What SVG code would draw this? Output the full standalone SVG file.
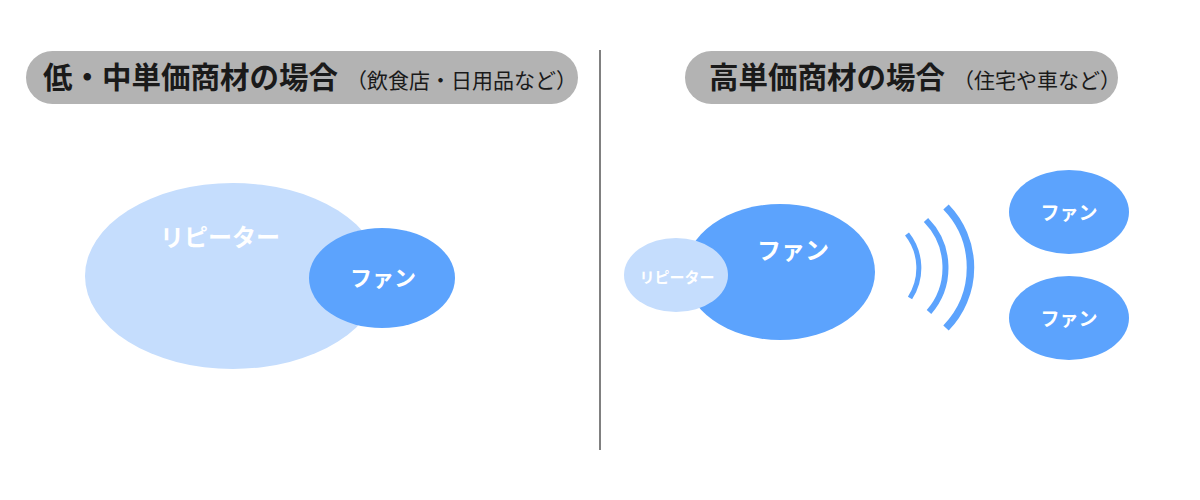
<svg xmlns="http://www.w3.org/2000/svg" width="1200" height="500" viewBox="0 0 1200 500">
<style>
.pill{fill:#b3b3b3}
.h{font-family:"Noto Sans CJK JP",sans-serif;fill:#1a1a1a}
.hb{font-weight:bold;font-size:29.5px}
.hs{font-size:21px}
.lbl{font-family:"Noto Sans CJK JP",sans-serif;fill:#ffffff;font-weight:bold;text-anchor:middle;dominant-baseline:central}
.light{fill:#c5ddfd}
.fan{fill:#5ca3fd}
.wave{fill:none;stroke:#5ca3fd;stroke-linecap:butt}
</style>
<rect width="1200" height="500" fill="#ffffff"/>
<g id="header-left">
<rect class="pill" x="26" y="51" width="552" height="53" rx="26.5"/>
<text class="h" x="43" y="88"><tspan class="hb">低・中単価商材の場合</tspan><tspan class="hs" dx="8">（飲食店・日用品など）</tspan></text>
</g>
<g id="header-right">
<rect class="pill" x="685" y="51" width="433" height="53" rx="26.5"/>
<text class="h" x="709" y="88"><tspan class="hb">高単価商材の場合</tspan><tspan class="hs" dx="8">（住宅や車など）</tspan></text>
</g>
<line id="divider" x1="600" y1="50" x2="600" y2="450" stroke="#808080" stroke-width="2"/>
<g id="left-repeater">
<ellipse class="light" cx="233" cy="276" rx="148" ry="93"/>
<text class="lbl" x="220" y="235" font-size="24">リピーター</text>
</g>
<g id="left-fan">
<ellipse class="fan" cx="382" cy="278" rx="73" ry="50"/>
<text class="lbl" x="383" y="276" font-size="22">ファン</text>
</g>
<g id="right-fan">
<ellipse class="fan" cx="780" cy="272" rx="95" ry="68"/>
<text class="lbl" x="793" y="248" font-size="24">ファン</text>
</g>
<g id="right-repeater">
<ellipse class="light" cx="676" cy="275" rx="52" ry="37"/>
<text class="lbl" x="677" y="276" font-size="15">リピーター</text>
</g>
<g id="connectors">
<path class="wave" stroke-width="5" d="M907,234 A55,55 0 0 1 910,298"/>
<path class="wave" stroke-width="6" d="M926,220 A68,68 0 0 1 929,312"/>
<path class="wave" stroke-width="7.5" d="M946,207 A87,87 0 0 1 946,328"/>
</g>
<g id="fan-top">
<ellipse class="fan" cx="1069" cy="212" rx="60" ry="42"/>
<text class="lbl" x="1069" y="211" font-size="19">ファン</text>
</g>
<g id="fan-bottom">
<ellipse class="fan" cx="1069" cy="318" rx="60" ry="42"/>
<text class="lbl" x="1069" y="317" font-size="19">ファン</text>
</g>
</svg>
